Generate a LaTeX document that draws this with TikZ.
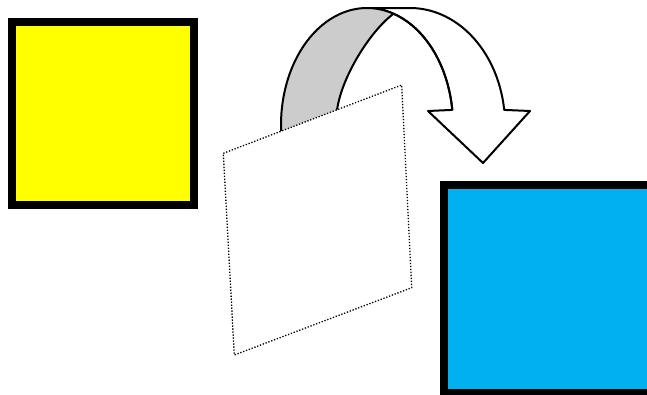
\documentclass[tikz,border=0pt]{standalone}
\definecolor{myyellow}{HTML}{FFFF00}
\definecolor{myblue}{HTML}{00B0F0}
\definecolor{mygray}{HTML}{CCCCCC}
\begin{document}
\begin{tikzpicture}[x=1pt,y=-1pt,
  box/.style={line width=8pt, draw=black},
  arrowline/.style={line width=2pt, line join=round, draw=black},
  sheet/.style={fill=white, draw=black, line width=1.3pt, dash pattern=on 1.3pt off 1.7pt}]
\useasboundingbox (0,0) rectangle (647,394);
\clip (0,0) rectangle (647,394);
\fill[white] (0,0) rectangle (647,394);
% squares
\draw[box, fill=myyellow] (11.7,22.3) rectangle (194,205);
\draw[box, fill=myblue] (444,185) rectangle (690,392.7);
% curved arrow
\coordinate (X) at ({367+86*cos(288)},{125+117*sin(288)});
\coordinate (G0) at (337,110);
\draw[arrowline, fill=white] (452.3,109.9) -- (428,111) -- (483,163) -- (530,111) -- (504.2,109.9)
  -- plot[domain=352.6:270, samples=60, smooth] ({410+95*cos(\x)},{125+117*sin(\x)})
  -- (367,8)
  -- plot[domain=270:352.6, samples=60, smooth] ({367+86*cos(\x)},{125+117*sin(\x)}) -- cycle;
\fill[mygray] plot[domain=170:288, samples=60, smooth] ({367+86*cos(\x)},{125+117*sin(\x)})
  .. controls (371,30.4) and (342,75.4) .. (G0) -- (335,145) -- cycle;
\draw[arrowline] plot[domain=170:352.6, samples=80, smooth] ({367+86*cos(\x)},{125+117*sin(\x)});
\draw[arrowline] (X) .. controls (371,30.4) and (342,75.4) .. (G0) -- (335,140);
% dotted sheet
\draw[sheet] (223.3,153.3) coordinate (s1) -- (401.7,85) coordinate (s2) -- (411.7,287.7) coordinate (s3) -- (234.3,355) coordinate (s4) -- cycle;
\end{tikzpicture}
\end{document}
